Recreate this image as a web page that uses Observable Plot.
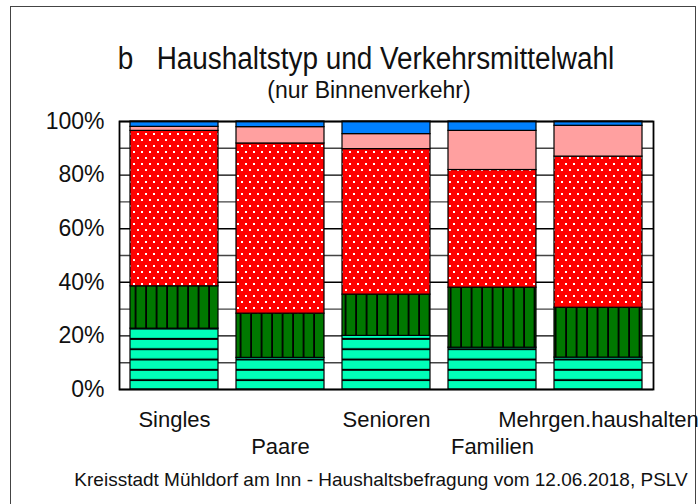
<!DOCTYPE html>
<html>
<head>
<meta charset="utf-8">
<script src="https://cdn.jsdelivr.net/npm/d3@7"></script>
<script src="https://cdn.jsdelivr.net/npm/@observablehq/plot@0.6"></script>
<style>
  html, body { margin: 0; padding: 0; background: #fff; }
  #wrap { position: relative; width: 698px; height: 504px; overflow: hidden; background: #fff;
          font-family: "Liberation Sans", Arial, sans-serif; color: #111; }
  #frame { position: absolute; left: 10px; top: 6px; width: 686px; height: 600px; border: 1.5px solid #444; box-sizing: border-box; }
  .t { position: absolute; white-space: pre; text-align: center; }
  #title { left: 0; width: 732px; top: 43px; font-size: 31px; line-height: 31px; transform: scaleX(0.9); }
  #subtitle { left: 0; width: 738px; top: 79px; font-size: 23px; line-height: 23px; }
  #caption { left: 0; width: 762px; top: 470px; font-size: 19px; line-height: 19px; }
  #chart { position: absolute; left: 0; top: 0; }
</style>
</head>
<body>
<svg width="0" height="0" style="position:absolute">
  <defs>
    <pattern id="pFuss" patternUnits="userSpaceOnUse" width="10" height="10.3">
      <rect width="10" height="10.3" fill="#00ffb9"></rect>
      <rect y="8.3" width="10" height="2" fill="#000"></rect>
    </pattern>
    <pattern id="pRad" patternUnits="userSpaceOnUse" width="10.5" height="10">
      <rect width="10.5" height="10" fill="#007800"></rect>
      <rect x="8.7" width="1.8" height="10" fill="#000"></rect>
    </pattern>
    <pattern id="pMivF" patternUnits="userSpaceOnUse" width="8" height="12">
      <rect width="8" height="12" fill="#ff0000"></rect>
      <rect x="1" y="1" width="2" height="2" fill="#fff"></rect>
      <rect x="5" y="7" width="2" height="2" fill="#fff"></rect>
    </pattern>
  </defs>
</svg>
<div id="wrap">
  <div id="frame"></div>
  <div class="t" id="title">b   Haushaltstyp und Verkehrsmittelwahl</div>
  <div class="t" id="subtitle">(nur Binnenverkehr)</div>
  <div id="chart"></div>
  <div class="t" id="caption">Kreisstadt Mühldorf am Inn - Haushaltsbefragung vom 12.06.2018, PSLV</div>
</div>
<script>
// Haushaltstypen
const categories = ["Singles", "Paare", "Senioren", "Familien", "Mehrgen.haushalten"];
// Verkehrsmittel (von unten nach oben)
const modes = ["Fuß", "Rad", "MIV-Fahrer", "MIV-Mitfahrer", "ÖPNV"];
// Anteile in %
const fuss  = [22.7, 11.8, 20.0, 15.6, 11.9];
const rad   = [15.8, 16.5, 15.4, 22.4, 18.6];
const mivF  = [58.0, 63.5, 54.3, 43.9, 56.4];
const mivM  = [1.5, 6.1, 5.6, 14.6, 11.5];
const oepnv = [2.0, 2.1, 4.7, 3.5, 1.6];
// Achsenbeschriftung
const yTicks = [0, 20, 40, 60, 80, 100];
const gridLines = [0, 10, 20, 30, 40, 50, 60, 70, 80, 90, 100];

const series = [fuss, rad, mivF, mivM, oepnv];
const rows = [];
modes.forEach((m, j) => categories.forEach((c, i) => rows.push({cat: c, mode: m, value: series[j][i]})));

const fills = ["url(#pFuss)", "url(#pRad)", "url(#pMivF)", "#ffa0a0", "#0080ff"];

const chart = Plot.plot({
  width: 698,
  height: 504,
  marginTop: 121,
  marginBottom: 115,
  marginLeft: 119,
  marginRight: 45,
  style: {background: "transparent", fontFamily: "Liberation Sans, Arial, sans-serif", color: "#111", overflow: "visible"},
  x: {domain: categories, paddingInner: 0.17, paddingOuter: 0.085, axis: null},
  y: {domain: [0, 100], axis: null, label: null},
  color: {type: "ordinal", domain: modes, range: fills},
  marks: [
    Plot.ruleY(gridLines, {stroke: d => d % 20 === 0 ? "#000" : "#444", strokeWidth: 1.4}),
    Plot.barY(rows, {x: "cat", y: "value", fill: "mode", stroke: "#000", strokeWidth: 1.2, order: modes}),
    Plot.frame({stroke: "#000", strokeWidth: 1.8}),
    Plot.axisY(yTicks, {tickSize: 0, tickPadding: 15, tickFormat: d => d + "%", fontSize: 23, label: null}),
    Plot.text(categories.filter((d, i) => i % 2 === 0), {x: d => d, frameAnchor: "bottom", dy: 37, fontSize: 22}),
    Plot.text(categories.filter((d, i) => i % 2 === 1), {x: d => d, frameAnchor: "bottom", dy: 64, fontSize: 22})
  ]
});
document.getElementById("chart").appendChild(chart);
</script>
</body>
</html>
